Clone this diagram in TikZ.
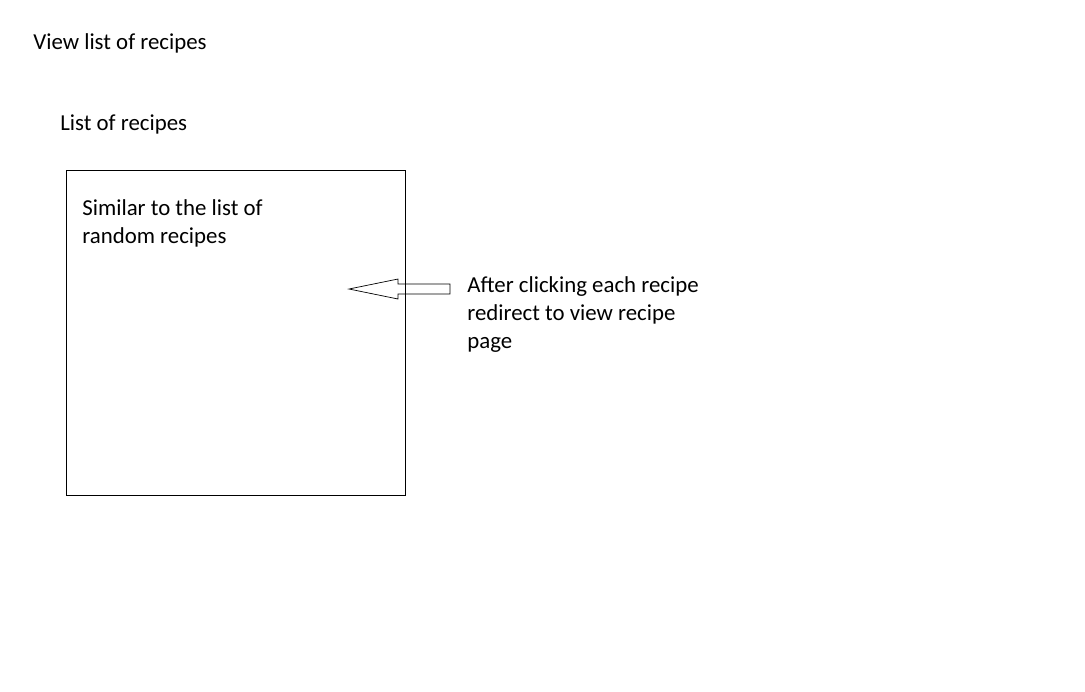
\documentclass[tikz,border=0pt]{standalone}
\usepackage{fontspec}
\setmainfont{Carlito}
\usetikzlibrary{positioning}

\begin{document}
\begin{tikzpicture}[x=0.02cm, y=-0.02cm,
    every node/.style={inner sep=0pt, font=\fontsize{13}{15.9}\selectfont},
    label text/.style={anchor=base west, align=left}]

    % page
    \useasboundingbox (0,0) rectangle (1085,691);

    % titles
    \node[label text] (title) at (33,49) {View list of recipes};
    \node[label text] (listtitle) at (60,130) {List of recipes};

    % list box
    \draw (66,170) rectangle (405,495);
    \node[anchor=north west, align=left] (boxtext) at (82,199) {Similar to the list of\\random recipes};

    % arrow
    \draw (450,284) -- (398,284) -- (398,279) -- (349,289) -- (398,299) -- (398,294) -- (450,294) -- cycle;
    \node[anchor=north west, align=left] (note) at (467,276) {After clicking each recipe\\redirect to view recipe\\page};

\end{tikzpicture}
\end{document}
